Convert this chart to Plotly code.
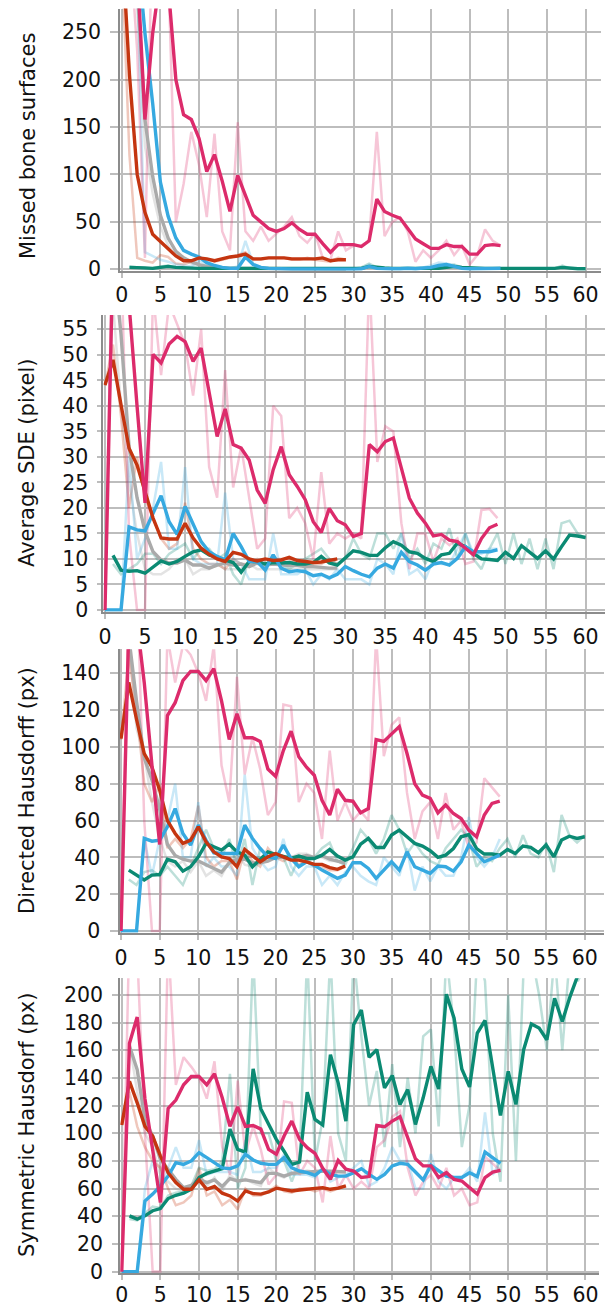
import plotly.graph_objects as go

# ---------------- data ----------------
X_50 = list(range(0, 50))      # magenta / blue epochs
X_30 = list(range(0, 30))      # red epochs
X_GRAY = list(range(1, 30))    # gray epochs
X_TEAL = list(range(1, 61))    # teal epochs

# Panel 1: Missed bone surfaces
MBS_MAGENTA = [600, 450, 320, 158, 249, 310, 300, 200, 163, 158,
               138, 103, 121, 93, 61, 99, 77, 57, 50, 43,
               40, 43, 49, 42, 37, 37, 27, 18, 26, 26,
               26, 24, 30, 74, 61, 57, 54, 43, 32, 27,
               22, 22, 26, 24, 24, 16, 16, 25, 26, 25]
MBS_MAGENTA_RAW = [500, 350, 230, 12, 380, 350, 320, 50, 90, 145,
                   110, 55, 143, 40, 20, 155, 40, 30, 45, 30,
                   38, 45, 55, 35, 28, 38, 12, 10, 40, 20,
                   25, 25, 30, 145, 35, 50, 55, 40, 8, 20,
                   12, 20, 30, 15, 25, 5, 15, 42, 30, 25]
MBS_BLUE = [600, 450, 340, 249, 175, 92, 56, 33, 20, 16,
            13, 7, 4, 2, 1, 1, 13, 5, 2, 1,
            0.5, 0.5, 0.3, 0.3, 0.2, 0.2, 0.2, 0.2, 0.2, 0.2,
            0.2, 0.5, 3, 1, 0.5, 0.5, 0.5, 1, 0.5, 1,
            2, 4, 5, 3, 1, 0.5, 0.5, 0.3, 0.3, 1]
MBS_BLUE_RAW = [600, 450, 300, 18, 14, 10, 8, 5, 4, 3,
                9, 5, 2, 1, 1, 3, 30, 6, 2, 1,
                1, 0.5, 0.5, 0.5, 0.5, 0.5, 0.5, 0.5, 0.5, 0.5,
                0.5, 1, 5, 1, 1, 1, 1, 2, 1, 2,
                4, 7, 6, 4, 2, 1, 1, 1, 1, 2]
MBS_RED = [350, 205, 100, 60, 37, 29, 21, 14, 9, 9,
           12, 11, 9, 11, 13, 14, 16, 11, 11, 12,
           12, 12, 11, 11, 11, 11, 12, 9, 10, 10]
MBS_RED_RAW = [330, 120, 12, 9, 7, 15, 13, 6, 5, 8,
               12, 10, 8, 10, 12, 15, 18, 10, 10, 12,
               12, 12, 10, 10, 12, 10, 9, 8, 12, 10]
MBS_GRAY = [420, 300, 158, 98, 57, 33, 19, 12, 8, 5,
            3, 2, 1.5, 1, 1, 1, 0.5, 0.5, 0.3, 0.3,
            0.3, 0.2, 0.2, 0.2, 0.2, 0.2, 0.2, 0.2, 0.2]
MBS_GRAY_RAW = [400, 280, 130, 80, 45, 25, 15, 10, 6, 4,
                3, 2, 1, 1, 1, 1, 0.5, 0.5, 0.5, 0.5,
                0.3, 0.3, 0.3, 0.3, 0.3, 0.3, 0.3, 0.3, 0.3]
MBS_TEAL = [2, 2, 1.5, 1, 2, 3, 2, 1.5, 1, 1,
            1, 1, 0.5, 0.5, 0.5, 0.5, 0.5, 0.5, 0.5, 0.5,
            0.5, 0.5, 0.5, 0.5, 0.5, 0.5, 0.5, 0.5, 0.5, 0.5,
            1, 3, 2, 1.5, 1, 1, 1, 1, 1, 1,
            1, 2, 3, 2, 1.5, 1, 1, 1, 1, 0.5,
            0.5, 0.5, 0.5, 0.5, 0.5, 1, 2, 1, 0.5, 0.5]
MBS_TEAL_RAW = [3, 2, 1, 1, 3, 4, 2, 1, 1, 1,
                1, 1, 0.5, 0.5, 0.5, 1, 1, 0.5, 0.5, 0.5,
                0.5, 0.5, 0.5, 0.5, 0.5, 0.5, 0.5, 0.5, 0.5, 0.5,
                2, 6, 2, 1, 1, 1, 1, 1, 1, 1,
                2, 4, 5, 2, 1, 1, 1, 1, 1, 0.5,
                0.5, 0.5, 0.5, 0.5, 0.5, 1, 4, 1, 0.5, 0.5]

# Panel 2: Average SDE (pixel)
SDE_MAGENTA = [0, 70, 75, 60, 40, 21, 50.1, 48.4, 52.1, 53.6,
               52.6, 48.7, 51.3, 42.5, 34, 39.4, 32.4, 31.7, 29.4, 23.5,
               20.9, 27.5, 32, 26.5, 24.2, 21.6, 17.3, 15.2, 19.9, 17.5,
               16.7, 14.4, 15, 32.4, 31, 33, 33.7, 27.8, 21.9, 19,
               17, 14.5, 14.8, 13.7, 13.4, 12.1, 10.8, 14, 16.1, 16.8]
SDE_MAGENTA_RAW = [0, 80, 70, 15, 0, 0, 62, 46, 60, 56,
                   52, 42, 55, 28, 22, 47, 24, 32, 22, 12,
                   14, 40, 38, 18, 20, 17, 10, 27, 13, 15,
                   14, 15, 14, 65, 29, 36, 35, 17, 8, 15,
                   15, 9.5, 14, 12.7, 14, 9, 9.5, 19.6, 19.8, 18]
SDE_BLUE = [0, 0, 0, 16.3, 15.7, 15.5, 18.8, 22.4, 17.3, 14.8,
            20.3, 17, 13.4, 11.4, 10.5, 9.8, 15, 12.4, 9.5, 9.5,
            7.8, 10.8, 8.2, 7.5, 7.7, 7.5, 6.7, 7, 6.3, 7,
            8.5, 7.7, 7, 6.5, 8.2, 9, 8.2, 11.3, 9.5, 8.8,
            7.8, 9, 9.3, 8.8, 10.1, 12.4, 11.4, 11.4, 11.4, 11.8]
SDE_BLUE_RAW = [0, 0, 0, 30, 10, 14, 20, 29, 12, 12,
                28, 10, 9, 9, 9, 23, 10, 9, 6, 6,
                6, 15, 7, 7, 7, 8, 5, 7, 6, 8,
                6, 6, 6, 5, 10, 9, 7, 15, 7, 8,
                6, 10, 9, 9, 12, 15, 11, 11, 12, 12]
SDE_RED = [44.1, 49, 40.2, 31.7, 28.4, 23.2, 18, 14.1, 13.9, 13.9,
           17, 14.1, 12.1, 10.9, 10, 9.5, 11.3, 10.9, 10, 9.6,
           10, 9.7, 9.8, 10.3, 9.7, 9.5, 9.3, 9.4, 9.7, 10]
SDE_RED_RAW = [44, 52, 38, 20, 30, 22, 18, 14, 12, 13,
               21, 12, 10, 9, 9, 8, 10, 9, 9, 10,
               9, 10, 10, 10, 9, 9, 9, 9, 10, 9]
SDE_GRAY = [70, 54, 32, 22, 15.4, 11.4, 9.8, 9.2, 9.2, 9.8,
            8.8, 8.8, 8.2, 8.8, 9.2, 8.8, 9, 8.5, 9.2, 8.8,
            9, 8.8, 8.7, 8.7, 8.5, 8.5, 8.3, 8.2, 8.2]
SDE_GRAY_RAW = [60, 40, 25, 15, 8, 7, 7, 8, 10, 10,
                7, 8, 8, 9, 8, 8, 8, 9, 8, 8,
                8, 8, 8, 8, 8, 8, 8, 8, 8]
SDE_TEAL = [10.7, 7.8, 7.6, 7.7, 7.2, 8.5, 9.6, 9, 9.5, 10.5,
            11.4, 11.8, 10.8, 10.3, 9.8, 9.3, 7.4, 9.5, 9.5, 9,
            9.3, 9.2, 9.3, 9, 9, 9.3, 10.5, 9.2, 8.8, 10.1,
            11.6, 11.3, 10.7, 10.7, 12.2, 13.4, 12.7, 11.4, 11.1, 10.1,
            9.5, 10.8, 11.1, 13.1, 12.4, 11.1, 10, 9.9, 9.7, 11.3,
            10.1, 12.6, 11.4, 10.1, 11.6, 10, 12.4, 14.7, 14.5, 14.2]
SDE_TEAL_RAW = [9, 7, 8, 9, 11, 11, 9, 11, 12, 13,
                10, 12, 12, 10, 11, 7, 5, 10, 9, 9,
                10, 9, 8, 9, 10, 11, 12, 10, 9, 10,
                14, 11, 10, 15, 15, 12, 15, 10, 12, 9,
                13, 12, 16, 10, 15, 10, 8, 12, 15, 9,
                15, 9, 14, 8, 14, 8, 17, 17.5, 15, 14]

# Panel 3: Directed Hausdorff (px)
DH_MAGENTA = [0, 165, 170, 135, 90, 47, 117, 124, 136, 141,
              141, 136, 142.5, 125, 104, 118, 105, 105, 103, 88,
              84, 98, 108.5, 94.6, 89, 84.6, 71, 63, 77, 71,
              70.5, 64.2, 66.5, 104, 103, 107, 111, 96.4, 80, 73.8,
              72, 64.2, 68.4, 63.8, 61.1, 54.8, 51.2, 63, 69.3, 70.5]
DH_MAGENTA_RAW = [0, 180, 200, 60, 0, 0, 160, 135, 155, 150,
                  140, 125, 155, 90, 70, 138, 85, 105, 88, 63,
                  70, 123, 122, 70, 80, 75, 50, 98, 60, 70,
                  60, 65, 60, 160, 95, 112, 116, 75, 50, 65,
                  70, 50, 75, 55, 60, 45, 48, 83, 78, 73]
DH_BLUE = [0, 0, 0, 50.3, 48.8, 49.4, 56.6, 66.5, 53, 46.7,
           57.5, 49.4, 42.5, 42.1, 42.1, 42.1, 57.5, 50.3, 44.8, 40.3,
           39.4, 46.7, 39.4, 34.9, 37.6, 35.8, 33.1, 30.7, 28.6, 30.4,
           37.1, 37.1, 34, 28.6, 33.1, 37.6, 33.1, 43, 34.9, 33.1,
           31.3, 35.3, 34.9, 32.5, 37.6, 46.7, 42.1, 37.6, 39.4, 41.2]
DH_BLUE_RAW = [0, 0, 0, 50, 30, 50, 60, 80, 40, 40,
               70, 35, 40, 35, 35, 30, 85, 45, 38, 33,
               35, 50, 35, 30, 35, 35, 25, 30, 25, 32,
               35, 30, 27, 25, 40, 35, 30, 45, 22, 35,
               27, 35, 30, 30, 40, 62, 40, 35, 40, 50]
DH_RED = [104.5, 135, 115, 96.4, 89, 76.5, 60, 53, 47.6, 49.4,
          56.6, 48.5, 43, 40.3, 39.4, 34.9, 44.3, 40.7, 37.6, 40.3,
          42.1, 40.3, 38.5, 38.5, 37.6, 36.2, 36.2, 34.4, 33.5, 35.3]
DH_RED_RAW = [104, 150, 120, 80, 70, 80, 45, 50, 45, 50,
              68, 40, 35, 38, 38, 28, 45, 38, 35, 45,
              40, 38, 40, 36, 38, 35, 35, 33, 33, 35]
DH_GRAY = [160, 125, 94, 82, 66, 47, 41, 39, 38, 38,
           36, 34, 32, 37, 39, 39, 37, 37, 38, 40,
           40, 40, 40, 41, 40, 41, 39, 38, 37]
DH_GRAY_RAW = [160, 110, 95, 70, 50, 38, 35, 38, 32, 38,
               30, 33, 30, 38, 42, 36, 35, 38, 40, 42,
               40, 40, 42, 42, 40, 40, 38, 38, 36]
DH_TEAL = [33.1, 30.4, 27.7, 30.4, 30.7, 39, 37.6, 32.5, 34.9, 40.3,
           47.6, 45.8, 44, 47.2, 43, 41.2, 34.9, 38.9, 43, 41.6,
           40.3, 39.4, 40.7, 39.4, 39.4, 41.2, 44.3, 40.7, 38.5, 40.3,
           47.2, 50.3, 45.4, 45.4, 52.1, 54.8, 51.2, 47.6, 46.1, 43.6,
           40, 41.2, 44.8, 51.2, 52.4, 44.8, 41.8, 41.8, 41.2, 44.3,
           42.1, 46.1, 45.4, 42.5, 46.7, 40.3, 49.4, 51.5, 50.3, 51.2]
DH_TEAL_RAW = [28, 25, 32, 33, 30, 35, 30, 25, 35, 45,
               55, 45, 40, 50, 35, 50, 25, 45, 40, 42,
               40, 30, 40, 38, 40, 45, 48, 38, 36, 45,
               55, 50, 42, 50, 63, 55, 42, 48, 42, 38,
               36, 45, 50, 55, 50, 35, 40, 38, 45, 50,
               40, 52, 42, 40, 48, 32, 63, 52, 48, 52]

# Panel 4: Symmetric Hausdorf (px)
SH_MAGENTA = [0, 165, 184, 125, 88, 50, 118, 124, 135, 141,
              141, 135, 143, 125.6, 105, 119, 105, 105.6, 103, 88.4,
              84.8, 98, 108.8, 95.6, 89.6, 85.5, 74.7, 66.7, 80.4, 74,
              72.7, 68, 68.7, 105.6, 104.7, 108.8, 112, 96.8, 81.6, 76.4,
              76.4, 68, 71.5, 66.7, 65.5, 60.7, 56, 68, 72, 73.2]
SH_MAGENTA_RAW = [0, 250, 230, 100, 0, 0, 240, 135, 155, 148,
                  140, 125, 152, 90, 70, 138, 85, 105, 88, 63,
                  70, 123, 122, 70, 80, 75, 50, 98, 60, 70,
                  60, 65, 60, 90, 95, 112, 116, 75, 55, 65,
                  70, 60, 75, 55, 60, 48, 50, 83, 78, 73]
SH_BLUE = [0, 0, 0, 51, 56, 62, 69, 78.8, 77.5, 80,
           86, 82.4, 78.8, 75, 74.4, 76.4, 84.8, 80.7, 78.3, 77.5,
           77.5, 82.4, 75, 72.7, 71.5, 69.6, 74, 70.3, 69, 69,
           71.5, 74.4, 70.3, 66.7, 70.3, 76.4, 78.3, 77.5, 72, 66.3,
           76.8, 72.7, 69, 68, 68, 71.5, 68.7, 86.4, 82.4, 78.3]
SH_BLUE_RAW = [0, 0, 0, 60, 80, 60, 75, 90, 75, 75,
               95, 70, 72, 72, 72, 70, 95, 72, 72, 75,
               75, 85, 70, 70, 70, 68, 75, 65, 68, 70,
               75, 80, 62, 65, 75, 90, 80, 80, 60, 60,
               85, 65, 60, 68, 68, 75, 65, 115, 70, 80]
SH_RED = [106, 137.6, 122, 105, 98, 83.6, 71.5, 64.3, 59.5, 59.5,
          66.3, 59.5, 61.5, 56.7, 54.7, 51, 58.3, 56.4, 56, 57.6,
          60.3, 59.5, 58.3, 59, 59.5, 60, 60.7, 59.5, 60.3, 62]
SH_RED_RAW = [106, 130, 105, 90, 80, 75, 60, 48, 50, 55,
              75, 55, 58, 48, 52, 45, 60, 55, 55, 58,
              62, 58, 57, 60, 60, 58, 60, 58, 60, 62]
SH_GRAY = [163, 146, 110, 98, 81, 74, 66.7, 60.7, 62.4, 66.7,
           64.3, 66.3, 61.5, 67.2, 65.5, 66.3, 65.5, 64.3, 71, 71,
           69, 71, 71.5, 72, 72.7, 72.7, 72.5, 72, 72]
SH_GRAY_RAW = [165, 130, 100, 90, 70, 65, 60, 58, 62, 70,
               62, 68, 58, 70, 65, 67, 64, 62, 75, 70,
               68, 72, 72, 73, 72, 73, 72, 72, 72]
SH_TEAL = [40.3, 38, 40.3, 44, 45.6, 52.8, 55.2, 56.7, 59.5, 68,
           71, 72.7, 74.4, 103, 88.4, 86.4, 146.5, 117.6, 106, 95.6,
           87, 77.5, 79.2, 129.7, 110, 106, 156.8, 136.4, 108.8, 178.4,
           189, 155, 160.4, 132.8, 141.7, 120.8, 131.6, 106.4, 125.6, 148.4,
           132, 200.5, 183.2, 146.5, 133.5, 172.4, 181.5, 147.2, 112.8, 144.8,
           120.8, 160.4, 179, 176, 167.6, 197.6, 180.8, 198.8, 214, 240]
SH_TEAL_RAW = [38, 37, 42, 47, 46, 55, 57, 58, 62, 75,
               73, 74, 80, 143, 60, 75, 230, 100, 100, 80,
               80, 65, 80, 230, 80, 110, 230, 100, 80, 230,
               170, 120, 145, 90, 150, 90, 140, 100, 170, 175,
               105, 230, 175, 90, 120, 230, 210, 100, 65, 200,
               80, 220, 230, 200, 160, 230, 160, 230, 210, 220]

Y_TITLES = ["Missed bone surfaces", "Average SDE (pixel)",
            "Directed Hausdorff (px)", "Symmetric Hausdorf (px)"]

# ---------------- styling ----------------
W, H = 607, 1307
FONT = "DejaVu Sans"
COL = {
    "magenta": (220, 43, 107),
    "blue": (54, 169, 224),
    "red": (196, 53, 16),
    "gray": (170, 170, 170),
    "teal": (11, 138, 115),
}
RAW_ALPHA = {"magenta": 0.27, "blue": 0.27, "red": 0.28, "gray": 0.33, "teal": 0.27}
GRID = "#bdbdbd"
AXLINE = "#8c8c8c"


def rgb(c, a=1.0):
    return f"rgba({c[0]},{c[1]},{c[2]},{a})"


# panel pixel boxes: (left, right, top, bottom), ranges, dtick, ticklen, title centre
PANELS = [
    dict(series=dict(magenta=(X_50, MBS_MAGENTA, MBS_MAGENTA_RAW), blue=(X_50, MBS_BLUE, MBS_BLUE_RAW),
                     red=(X_30, MBS_RED, MBS_RED_RAW), gray=(X_GRAY, MBS_GRAY, MBS_GRAY_RAW),
                     teal=(X_TEAL, MBS_TEAL, MBS_TEAL_RAW)),
         box=(120.2, 601.0, 8.6, 270.7), xr=[-0.2, 62], yr=[-1.5, 275], dtick=50, ticklen=8,
         tpos=(28, 146), xstand=0),
    dict(series=dict(magenta=(X_50, SDE_MAGENTA, SDE_MAGENTA_RAW), blue=(X_50, SDE_BLUE, SDE_BLUE_RAW),
                     red=(X_30, SDE_RED, SDE_RED_RAW), gray=(X_GRAY, SDE_GRAY, SDE_GRAY_RAW),
                     teal=(X_TEAL, SDE_TEAL, SDE_TEAL_RAW)),
         box=(103.4, 604.8, 315.0, 611.5), xr=[-0.2, 62.4], yr=[-0.3, 57.8], dtick=5, ticklen=4,
         tpos=(27, 463), xstand=1),
    dict(series=dict(magenta=(X_50, DH_MAGENTA, DH_MAGENTA_RAW), blue=(X_50, DH_BLUE, DH_BLUE_RAW),
                     red=(X_30, DH_RED, DH_RED_RAW), gray=(X_GRAY, DH_GRAY, DH_GRAY_RAW),
                     teal=(X_TEAL, DH_TEAL, DH_TEAL_RAW)),
         box=(119.5, 604.1, 649.3, 932.5), xr=[-0.2, 62.5], yr=[-0.8, 153], dtick=20, ticklen=8,
         tpos=(27, 791), xstand=1),
    dict(series=dict(magenta=(X_50, SH_MAGENTA, SH_MAGENTA_RAW), blue=(X_50, SH_BLUE, SH_BLUE_RAW),
                     red=(X_30, SH_RED, SH_RED_RAW), gray=(X_GRAY, SH_GRAY, SH_GRAY_RAW),
                     teal=(X_TEAL, SH_TEAL, SH_TEAL_RAW)),
         box=(120.2, 599.4, 978.3, 1273.0), xr=[-0.2, 61.8], yr=[-1, 212], dtick=20, ticklen=6,
         tpos=(27, 1125), xstand=-3),
]

RAW_ORDER = ["gray", "red", "teal", "blue", "magenta"]
THICK_ORDER = ["gray", "teal", "blue", "red", "magenta"]

fig = go.Figure()
layout = {}
annotations = []

for i, p in enumerate(PANELS):
    n = "" if i == 0 else str(i + 1)
    xa, ya = "x" + n, "y" + n
    for name in RAW_ORDER:
        xs, _, raw = p["series"][name]
        fig.add_trace(go.Scatter(x=xs, y=raw, mode="lines", xaxis=xa, yaxis=ya,
                                 line=dict(color=rgb(COL[name], RAW_ALPHA[name]), width=2.5),
                                 hoverinfo="skip", showlegend=False))
    for name in THICK_ORDER:
        xs, ys, _ = p["series"][name]
        fig.add_trace(go.Scatter(x=xs, y=ys, mode="lines", xaxis=xa, yaxis=ya,
                                 line=dict(color=rgb(COL[name]), width=3.4),
                                 showlegend=False))
    l, r, t, b = p["box"]
    common = dict(showgrid=True, gridcolor=GRID, gridwidth=2, zeroline=False,
                  showline=True, linecolor=AXLINE, linewidth=2, automargin=False,
                  ticks="outside", tickcolor=GRID, tickwidth=2,
                  tickfont=dict(family=FONT, size=20.5, color="#111111"), fixedrange=True)
    layout["xaxis" + n] = dict(common, domain=[l / W, r / W], range=p["xr"], anchor=ya,
                               tick0=0, dtick=5, ticklen=5, ticklabelstandoff=p["xstand"])
    layout["yaxis" + n] = dict(common, domain=[1 - b / H, 1 - t / H], range=p["yr"], anchor=xa,
                               tick0=0, dtick=p["dtick"], ticklen=p["ticklen"],
                               ticklabelstandoff=5)
    tx, ty = p["tpos"]
    annotations.append(dict(text=Y_TITLES[i], x=tx / W, y=1 - ty / H, xref="paper", yref="paper",
                            xanchor="center", yanchor="middle", textangle=-90, showarrow=False,
                            font=dict(family=FONT, size=21, color="#111111")))

fig.update_layout(width=W, height=H, margin=dict(l=0, r=0, t=0, b=0, autoexpand=False),
                  paper_bgcolor="white", plot_bgcolor="white",
                  annotations=annotations, showlegend=False, **layout)

fig.write_html("out.html", config={"displayModeBar": False},
               post_script="document.body.style.margin='0';document.body.style.overflow='hidden';")
